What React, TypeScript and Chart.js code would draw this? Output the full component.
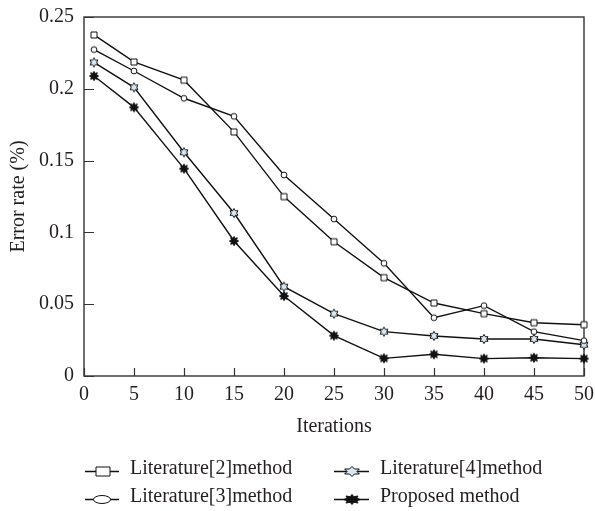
import React, { useEffect, useRef } from "react";
import { Chart, registerables } from "chart.js";

Chart.register(...registerables);

const iterations = [1, 5, 10, 15, 20, 25, 30, 35, 40, 45, 50];
const lit2 = [0.2375, 0.2187, 0.206, 0.17, 0.1249, 0.0935, 0.0685, 0.0508, 0.0434, 0.0371, 0.0357];
const lit3 = [0.2273, 0.2124, 0.1934, 0.1808, 0.14, 0.1093, 0.0785, 0.0406, 0.049, 0.0309, 0.0246];
const lit4 = [0.2184, 0.201, 0.1558, 0.1135, 0.0622, 0.0434, 0.0309, 0.0279, 0.0258, 0.0258, 0.0218];
const proposed = [0.2089, 0.1871, 0.1444, 0.094, 0.0557, 0.0281, 0.0123, 0.0151, 0.0121, 0.0127, 0.0121];
const seriesNames = ["Literature[2]method", "Literature[3]method", "Literature[4]method", "Proposed method"];
const xTicks = [0, 5, 10, 15, 20, 25, 30, 35, 40, 45, 50];
const yTicks = [0, 0.05, 0.1, 0.15, 0.2, 0.25];
const yTickLabels = ["0", "0.05", "0.1", "0.15", "0.2", "0.25"];

const FONT = "'Liberation Serif', 'DejaVu Serif', serif";
const INK = "#231f20";

type Kind = "square" | "circle" | "hexagram" | "star8";

function tracePath(ctx: CanvasRenderingContext2D, kind: Kind, cx: number, cy: number, hw: number, hh: number) {
  ctx.save();
  ctx.translate(cx, cy);
  ctx.scale(hw, hh);
  ctx.beginPath();
  if (kind === "square") {
    ctx.rect(-1, -1, 2, 2);
  } else if (kind === "circle") {
    ctx.arc(0, 0, 1, 0, Math.PI * 2);
  } else if (kind === "hexagram") {
    const n = 6;
    for (let i = 0; i < n * 2; i++) {
      const r = i % 2 === 0 ? 1 : 0.58;
      const a = -Math.PI / 2 + (i * Math.PI) / n;
      const px = Math.cos(a) * r;
      const py = Math.sin(a) * r;
      if (i === 0) ctx.moveTo(px, py);
      else ctx.lineTo(px, py);
    }
    ctx.closePath();
  } else {
    const n = 8;
    for (let i = 0; i < n * 2; i++) {
      const r = i % 2 === 0 ? 1 : 0.6;
      const a = -Math.PI / 2 + (i * Math.PI) / n;
      const px = Math.cos(a) * r;
      const py = Math.sin(a) * r;
      if (i === 0) ctx.moveTo(px, py);
      else ctx.lineTo(px, py);
    }
    ctx.closePath();
  }
  ctx.restore();
}

function fillOf(kind: Kind) {
  if (kind === "hexagram") return "#d9e8f5";
  if (kind === "star8") return "#111";
  return "#fff";
}

function drawMarker(ctx: CanvasRenderingContext2D, kind: Kind, cx: number, cy: number, hw: number, hh: number) {
  tracePath(ctx, kind, cx, cy, hw, hh);
  ctx.fillStyle = fillOf(kind);
  ctx.fill();
  ctx.lineWidth = 1;
  ctx.strokeStyle = "#111";
  ctx.stroke();
}

function makeMarker(kind: Kind, half: number) {
  const size = Math.ceil(half * 2 + 4);
  const c = document.createElement("canvas");
  c.width = size;
  c.height = size;
  const ctx = c.getContext("2d")!;
  drawMarker(ctx, kind, size / 2, size / 2, half, half);
  return c;
}

const kinds: Kind[] = ["square", "circle", "hexagram", "star8"];
const markerHalf = [3, 2.9, 4.6, 4.6];
const seriesValues = [lit2, lit3, lit4, proposed];

const frameAndTicks = {
  id: "frameAndTicks",
  beforeDatasetsDraw(chart: any) {
    const { ctx, chartArea } = chart;
    const xs = chart.scales.x;
    const ys = chart.scales.y;
    ctx.save();
    ctx.strokeStyle = "#333";
    ctx.lineWidth = 1.4;
    ctx.strokeRect(chartArea.left, chartArea.top, chartArea.right - chartArea.left, chartArea.bottom - chartArea.top);
    ctx.lineWidth = 1.2;
    ctx.beginPath();
    xTicks.forEach((v) => {
      const px = Math.round(xs.getPixelForValue(v)) + 0.5;
      ctx.moveTo(px, chartArea.bottom);
      ctx.lineTo(px, chartArea.bottom - 8);
    });
    yTicks.forEach((v) => {
      const py = Math.round(ys.getPixelForValue(v)) + 0.5;
      ctx.moveTo(chartArea.left, py);
      ctx.lineTo(chartArea.left + 10, py);
    });
    ctx.stroke();
    ctx.restore();
  },
};

const legendSlots = [
  { lx0: 85, lx1: 119, mx: 103, tx: 130, y: 471 },
  { lx0: 85, lx1: 119, mx: 102, tx: 130, y: 499 },
  { lx0: 334, lx1: 369, mx: 352, tx: 380, y: 471 },
  { lx0: 334, lx1: 369, mx: 352, tx: 380, y: 499 },
];
const legendMarkerSize = [
  [7, 4.5],
  [8.5, 4],
  [8.5, 5],
  [8.5, 5],
];

const customLegend = {
  id: "customLegend",
  afterDraw(chart: any) {
    const { ctx } = chart;
    ctx.save();
    seriesNames.forEach((name, i) => {
      const s = legendSlots[i];
      ctx.strokeStyle = "#111";
      ctx.lineWidth = 1.3;
      ctx.beginPath();
      ctx.moveTo(s.lx0, s.y + 0.5);
      ctx.lineTo(s.lx1, s.y + 0.5);
      ctx.stroke();
      drawMarker(ctx, kinds[i], s.mx, s.y + 0.5, legendMarkerSize[i][0], legendMarkerSize[i][1]);
      ctx.fillStyle = INK;
      ctx.font = `20px ${FONT}`;
      ctx.textAlign = "left";
      ctx.textBaseline = "middle";
      ctx.fillText(name, s.tx, s.y - 2);
    });
    ctx.restore();
  },
};

export default function App() {
  const ref = useRef<HTMLCanvasElement | null>(null);
  useEffect(() => {
    if (!ref.current) return;
    const datasets = seriesNames.map((name, i) => ({
      label: name,
      data: iterations.map((x, j) => ({ x, y: seriesValues[i][j] })),
      borderColor: "#111",
      borderWidth: 1.4,
      pointStyle: makeMarker(kinds[i], markerHalf[i]),
      pointRadius: 5,
      pointHoverRadius: 5,
      fill: false,
      tension: 0,
      clip: 12,
    }));
    const chart = new Chart(ref.current, {
      type: "line",
      data: { datasets },
      plugins: [frameAndTicks, customLegend],
      options: {
        animation: false,
        responsive: false,
        maintainAspectRatio: false,
        events: [],
        layout: { padding: { top: 17, right: 11, left: 0, bottom: 0 } },
        plugins: { legend: { display: false }, tooltip: { enabled: false } },
        scales: {
          x: {
            type: "linear",
            min: 0,
            max: 50,
            afterBuildTicks: (s: any) => {
              s.ticks = xTicks.map((v) => ({ value: v }));
            },
            afterFit: (s: any) => {
              s.height = 135;
              s.paddingLeft = 0;
              s.paddingRight = 0;
            },
            grid: { display: false, drawTicks: false },
            border: { display: false },
            ticks: {
              font: { family: FONT, size: 20 },
              color: INK,
              padding: 7,
              maxRotation: 0,
              autoSkip: false,
            },
            title: {
              display: true,
              text: "Iterations",
              font: { family: FONT, size: 20 },
              color: INK,
              padding: { top: 0, bottom: 72 },
            },
          },
          y: {
            type: "linear",
            min: 0,
            max: 0.25,
            afterBuildTicks: (s: any) => {
              s.ticks = yTicks.map((v) => ({ value: v }));
            },
            afterFit: (s: any) => {
              s.width = 84;
              s.paddingTop = 0;
              s.paddingBottom = 0;
            },
            grid: { display: false, drawTicks: false },
            border: { display: false },
            ticks: {
              font: { family: FONT, size: 20 },
              color: INK,
              padding: 10,
              autoSkip: false,
              callback: (_v: any, i: number) => yTickLabels[i],
            },
            title: {
              display: true,
              text: "Error rate (%)",
              font: { family: FONT, size: 20 },
              color: INK,
              padding: { top: 7, bottom: 0 },
            },
          },
        },
      } as any,
    });
    return () => chart.destroy();
  }, []);
  return (
    <div style={{ position: "absolute", left: 0, top: 0, width: 595, height: 511 }}>
      <canvas ref={ref} width={595} height={511} style={{ display: "block", width: 595, height: 511 }} />
    </div>
  );
}
